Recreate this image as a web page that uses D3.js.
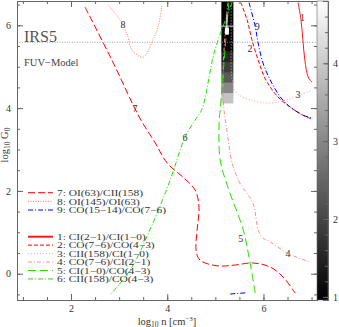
<!doctype html>
<html lang="en">
<head>
<meta charset="utf-8">
<script src="https://cdn.jsdelivr.net/npm/d3@7"></script>
<style>
  body { margin: 0; background: #fff; }
  text { font-family: "Liberation Serif", "DejaVu Serif", serif; }
</style>
</head>
<body>
<script>
// contour lines, [log n, log G0]
var curve1 = [[6.72,6.55],[6.78,6.13],[6.82,5.65],[6.86,5.16],[6.93,4.75],[7.01,4.63]];
var curve2 = [[5.53,6.55],[5.66,6.13],[5.76,5.65],[5.89,5.16],[6.05,4.68],[6.30,4.27],[6.55,4.03],[6.82,3.83],[7.01,3.73]];
var curve3 = [[5.33,6.55],[5.33,5.64],[5.35,4.68],[5.45,4.36],[5.72,4.20],[6.14,4.12],[6.49,4.20],[7.01,4.44]];
var curve4 = [[5.26,6.55],[5.18,5.40],[5.16,4.44],[5.18,3.95],[5.24,3.47],[5.35,2.67],[5.51,2.19],[5.78,1.71],[5.89,1.06],[5.99,0.86],[6.14,0.77],[6.49,0.50],[6.97,0.28]];
var curve5 = [[5.28,6.55],[5.20,5.40],[5.10,3.95],[5.08,3.71],[5.10,2.75],[5.26,2.09],[5.58,1.06],[5.70,0.40],[5.83,-0.47]];
var curve6 = [[5.35,6.55],[4.99,5.40],[4.72,3.97],[4.58,3.71],[4.37,3.30],[4.06,2.26],[3.64,1.06],[3.23,0.09],[2.81,-0.51]];
var curve7 = [[2.29,6.44],[2.85,5.16],[3.43,3.76],[3.75,3.16],[4.00,2.67],[4.33,2.33],[4.58,2.02],[4.66,1.61],[4.62,1.05],[4.60,0.57],[4.68,0.33],[5.04,0.19],[5.41,0.21],[5.78,0.26],[6.14,0.16],[6.41,-0.08],[6.66,-0.47]];
var curve8 = [[2.77,6.49],[2.98,6.20],[3.16,5.81],[3.27,5.40],[3.50,5.23],[3.70,5.64],[3.81,5.96],[3.89,6.49]];
var curve9 = [[5.70,6.55],[5.83,5.96],[5.89,5.57],[5.99,5.09],[6.14,4.68],[6.35,4.27],[6.55,4.03],[6.82,3.83],[7.01,3.76]];
var curve9b = [[5.31,-0.49],[5.66,-0.46]];

// contour label positions
var labelText = ["1","2","3","4","5","6","7","8","9"];
var labelPos = [[6.81,6.19],[5.72,5.43],[6.72,4.32],[6.51,0.50],[5.53,0.86],[4.37,3.30],[3.33,4.00],[3.08,6.01],[5.87,5.96]];

// model grid cells (one column shown), colour-bar value
var cellN = [5.25];
var cellG = [4.25,4.5,4.75,5.0,5.25,5.5,5.75,6.0,6.25,6.5];
var cellValue = [3.9,3.0,2.3,1.9,1.5,1.0,1.0,1.0,1.0,1.0];

// IRS5 observed value
var irs5G = 5.59;
var irs5Point = {n: 5.24, g: 5.85, nLow: 5.06, nHigh: 5.43, gLine: 5.98, gLow: 5.77, gHigh: 6.25};

var legendTop = ["7: OI(63)/CII(158)", "8: OI(145)/OI(63)", "9: CO(15\u221214)/CO(7\u22126)"];
var legendBottom = ["1: CI(2\u22121)/CI(1\u22120)", "2: CO(7\u22126)/CO(4\u22123)", "3: CII(158)/CI(1\u22120)",
                    "4: CO(7\u22126)/CI(2\u22121)", "5: CI(1\u22120)/CO(4\u22123)", "6: CII(158)/CO(4\u22123)"];

var xTicks = [2, 4, 6];
var yTicks = [0, 2, 4, 6];
var cbTicks = [1, 2, 3, 4];

var svgW = 339, svgH = 327;
var plot = {left: 17, right: 317, top: 1, bottom: 300};

var x = d3.scaleLinear().domain([0.877, 7.113]).range([plot.left, plot.right]);
var y = d3.scaleLinear().domain([-0.635, 6.587]).range([plot.bottom, plot.top]);
var cb = d3.scaleLinear().domain([0.96, 4.8]).range([plot.bottom, plot.top]);
var gray = d3.scaleLinear().domain([0.96, 4.8]).range(["#000", "#fff"]).clamp(true);

var styles = {
    c1: {color: "#ff1a1a", dash: null},
    c2: {color: "#ff0000", dash: "4,2"},
    c3: {color: "#ffa0a0", dash: "1,2"},
    c4: {color: "#ff8c8c", dash: "4,2,1,2"},
    c5: {color: "#22e000", dash: "8,4"},
    c6: {color: "#22e000", dash: "5,2,1,2"},
    c7: {color: "#ff0000", dash: "7,3"},
    c8: {color: "#ff7070", dash: "1,1.5"},
    c9: {color: "#0000ff", dash: "5,2,1,2"}
};

var svg = d3.select("body").append("svg")
            .attr("width", svgW)
            .attr("height", svgH);

svg.append("clipPath").attr("id", "clip")
   .append("rect")
   .attr("x", plot.left).attr("y", plot.top)
   .attr("width", plot.right - plot.left).attr("height", plot.bottom - plot.top);

var g = svg.append("g").attr("clip-path", "url(#clip)");

// grid cells
var cw = x(5.125) - x(4.875);
var ch = y(0) - y(0.25);
cellG.forEach(function(gv, i) {
    g.append("rect")
     .attr("x", x(cellN[0]) - cw / 2)
     .attr("y", y(gv) - ch / 2)
     .attr("width", cw)
     .attr("height", ch + 0.5)
     .attr("fill", gray(cellValue[i]));
});

// IRS5 level
g.append("line")
 .attr("x1", plot.left).attr("x2", plot.right)
 .attr("y1", y(irs5G)).attr("y2", y(irs5G))
 .attr("stroke", "#888").attr("stroke-width", 0.8).attr("stroke-dasharray", "1,1.5");

var line = d3.line()
             .x(d => x(d[0]))
             .y(d => y(d[1]))
             .curve(d3.curveCatmullRom.alpha(0.5));

var curves = [
    [curve1, "c1"], [curve2, "c2"], [curve3, "c3"], [curve4, "c4"], [curve5, "c5"],
    [curve6, "c6"], [curve7, "c7"], [curve8, "c8"], [curve9, "c9"], [curve9b, "c9"]
];
curves.forEach(function(c) {
    g.append("path")
     .attr("d", line(c[0]))
     .attr("fill", "none")
     .attr("stroke", styles[c[1]].color)
     .attr("stroke-width", 1)
     .attr("stroke-dasharray", styles[c[1]].dash);
});

// IRS5 marker
g.append("line")
 .attr("x1", x(irs5Point.nLow)).attr("x2", x(irs5Point.nHigh))
 .attr("y1", y(irs5Point.gLine)).attr("y2", y(irs5Point.gLine))
 .attr("stroke", "#ddd").attr("stroke-width", 1);
g.append("line")
 .attr("x1", x(irs5Point.n)).attr("x2", x(irs5Point.n))
 .attr("y1", y(irs5Point.gLow)).attr("y2", y(irs5Point.gHigh))
 .attr("stroke", "#fff").attr("stroke-width", 1);
g.append("rect")
 .attr("x", x(irs5Point.n) - 2).attr("y", y(irs5Point.g) - 4)
 .attr("width", 4).attr("height", 7)
 .attr("fill", "#fff");

// contour labels
labelText.forEach(function(t, i) {
    g.append("text")
     .attr("x", x(labelPos[i][0]))
     .attr("y", y(labelPos[i][1]))
     .attr("dy", "0.35em")
     .attr("text-anchor", "middle")
     .attr("font-size", "10px")
     .attr("fill", "#333")
     .text(t);
});

// text
svg.append("text")
   .attr("x", 24).attr("y", 42)
   .attr("font-size", "16px")
   .attr("fill", "#555")
   .text("IRS5");
svg.append("text")
   .attr("x", 24).attr("y", 66)
   .attr("font-size", "10.5px")
   .attr("fill", "#444")
   .text("FUV\u2212Model");

// legends
function drawLegend(labels, keys, y0, dy) {
    labels.forEach(function(t, i) {
        var yy = y0 + i * dy;
        svg.append("line")
           .attr("x1", 28).attr("x2", 53)
           .attr("y1", yy).attr("y2", yy)
           .attr("stroke", styles[keys[i]].color)
           .attr("stroke-width", keys[i] == "c1" ? 2 : 1)
           .attr("stroke-dasharray", styles[keys[i]].dash);
        var txt = svg.append("text")
                     .attr("x", 57).attr("y", yy)
                     .attr("dy", "0.35em")
                     .attr("font-size", "9px")
                     .attr("fill", "#333")
                     .text(t);
        var len = txt.node().getComputedTextLength();
        txt.attr("textLength", len * 1.27).attr("lengthAdjust", "spacingAndGlyphs");
    });
}
drawLegend(legendTop, ["c7", "c8", "c9"], 192.7, 8.65);
drawLegend(legendBottom, ["c1", "c2", "c3", "c4", "c5", "c6"], 236.7, 8.45);

// axes
var axisColor = "#666";
function styleAxis(sel) {
    sel.selectAll("path").attr("stroke", axisColor);
    sel.selectAll("line").attr("stroke", axisColor);
    sel.selectAll("text").attr("fill", "#333").attr("font-size", "10px")
       .attr("font-family", "'Liberation Serif', serif");
}
function minorTicks(lo, hi, step) {
    return d3.range(Math.ceil(lo / step) * step, hi, step);
}
var xMinor = minorTicks(0.877, 7.113, 0.5);
var yMinor = minorTicks(-0.635, 6.587, 0.5);

svg.append("g").attr("transform", "translate(0," + plot.bottom + ")")
   .call(d3.axisBottom(x).tickValues(xTicks).tickSize(-6).tickPadding(5).tickFormat(d3.format("d")))
   .call(styleAxis);
svg.append("g").attr("transform", "translate(0," + plot.bottom + ")")
   .call(d3.axisBottom(x).tickValues(xMinor).tickSize(-3).tickFormat(""))
   .call(styleAxis);
svg.append("g").attr("transform", "translate(0," + plot.top + ")")
   .call(d3.axisTop(x).tickValues(xTicks).tickSize(-6).tickFormat(""))
   .call(styleAxis);
svg.append("g").attr("transform", "translate(0," + plot.top + ")")
   .call(d3.axisTop(x).tickValues(xMinor).tickSize(-3).tickFormat(""))
   .call(styleAxis);
svg.append("g").attr("transform", "translate(" + plot.left + ",0)")
   .call(d3.axisLeft(y).tickValues(yTicks).tickSize(-6).tickPadding(6).tickFormat(d3.format("d")))
   .call(styleAxis);
svg.append("g").attr("transform", "translate(" + plot.left + ",0)")
   .call(d3.axisLeft(y).tickValues(yMinor).tickSize(-3).tickFormat(""))
   .call(styleAxis);
svg.append("g").attr("transform", "translate(" + plot.right + ",0)")
   .call(d3.axisRight(y).tickValues(yTicks).tickSize(-6).tickFormat(""))
   .call(styleAxis);
svg.append("g").attr("transform", "translate(" + plot.right + ",0)")
   .call(d3.axisRight(y).tickValues(yMinor).tickSize(-3).tickFormat(""))
   .call(styleAxis);

// axis titles
var xt = svg.append("text")
            .attr("x", 167).attr("y", 324.5)
            .attr("text-anchor", "middle")
            .attr("font-size", "10.5px")
            .attr("fill", "#333");
xt.append("tspan").text("log");
xt.append("tspan").attr("font-size", "7.5px").attr("dy", 2).text("10");
xt.append("tspan").attr("dy", -2).text(" n [cm");
xt.append("tspan").attr("font-size", "7px").attr("dy", -3.5).text("\u22123");
xt.append("tspan").attr("dy", 3.5).text("]");

var yt = svg.append("text")
            .attr("transform", "translate(8,145) rotate(-90)")
            .attr("text-anchor", "middle")
            .attr("font-size", "10.5px")
            .attr("fill", "#333");
yt.append("tspan").text("log");
yt.append("tspan").attr("font-size", "7.5px").attr("dy", 2).text("10");
yt.append("tspan").attr("dy", -2).text(" G");
yt.append("tspan").attr("font-size", "7.5px").attr("dy", 2).text("0");

// colour bar
var grad = svg.append("defs").append("linearGradient")
              .attr("id", "cbgrad")
              .attr("x1", 0).attr("x2", 0).attr("y1", 1).attr("y2", 0);
grad.append("stop").attr("offset", "0%").attr("stop-color", gray(0.96));
grad.append("stop").attr("offset", "100%").attr("stop-color", gray(4.8));

var cbX = plot.right, cbW = 11;
svg.append("rect")
   .attr("x", cbX).attr("y", plot.top)
   .attr("width", cbW).attr("height", plot.bottom - plot.top)
   .attr("fill", "url(#cbgrad)")
   .attr("stroke", axisColor).attr("stroke-width", 0.6);

svg.append("g").attr("transform", "translate(" + (cbX + cbW) + ",0)")
   .call(d3.axisRight(cb).tickValues(cbTicks).tickSize(-5).tickPadding(5).tickFormat(d3.format("d")))
   .call(styleAxis);
svg.append("g").attr("transform", "translate(" + (cbX + cbW) + ",0)")
   .call(d3.axisRight(cb).tickValues(minorTicks(0.96, 4.8, 0.2)).tickSize(-3).tickFormat(""))
   .call(styleAxis);
</script>
</body>
</html>
